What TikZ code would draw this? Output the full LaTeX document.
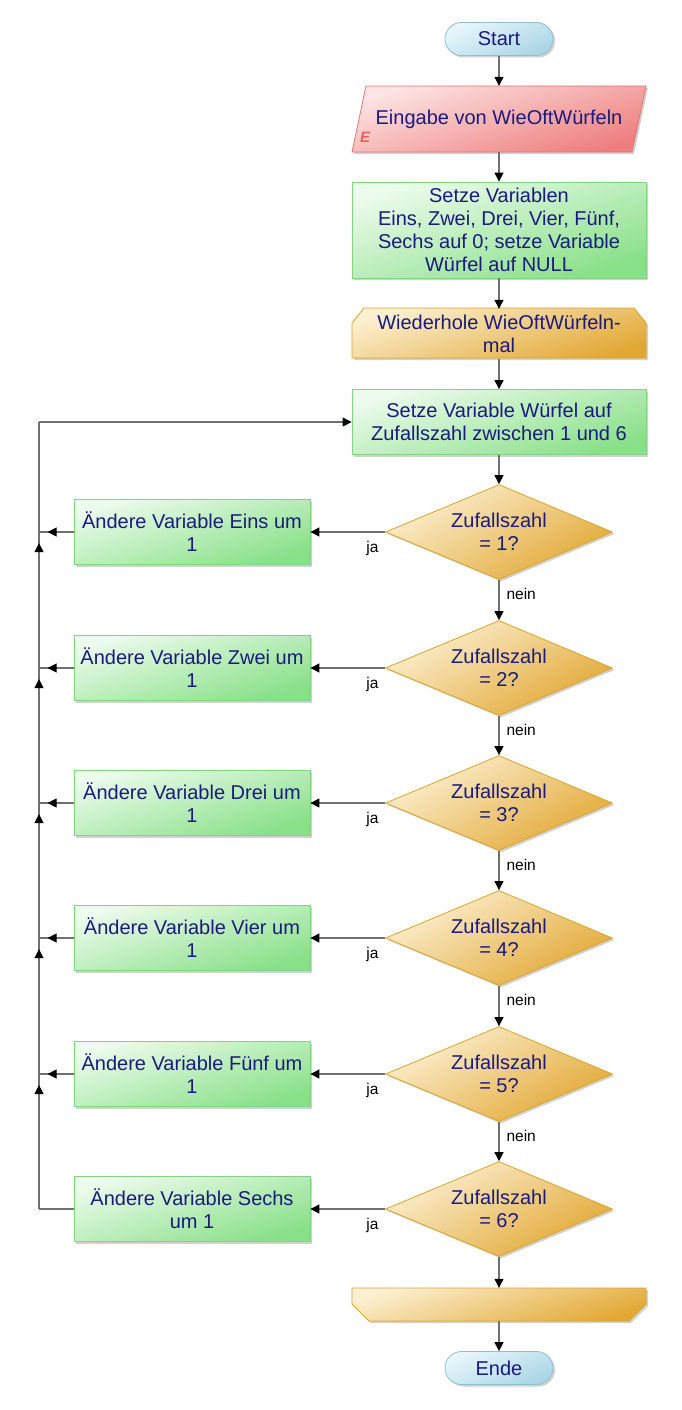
\documentclass[tikz,border=0pt]{standalone}
\usepackage{fontspec}
\setmainfont{Liberation Sans}
\usetikzlibrary{arrows.meta,shapes.geometric,decorations.markings,shadows}
\definecolor{navy}{RGB}{26,26,127}
\definecolor{linegray}{RGB}{112,112,112}
\definecolor{termlight}{RGB}{232,246,251}
\definecolor{termdark}{RGB}{170,214,229}
\definecolor{termborder}{RGB}{140,192,210}
\definecolor{inlight}{RGB}{253,228,228}
\definecolor{indark}{RGB}{238,126,126}
\definecolor{inborder}{RGB}{229,115,115}
\definecolor{proclight}{RGB}{236,251,236}
\definecolor{procdark}{RGB}{136,224,136}
\definecolor{procborder}{RGB}{127,214,127}
\definecolor{declight}{RGB}{252,240,210}
\definecolor{decdark}{RGB}{226,168,52}
\definecolor{decborder}{RGB}{217,165,42}
\definecolor{ered}{RGB}{232,96,96}
\begin{document}
\begin{tikzpicture}[x=1pt,y=-1pt,
  tip/.style={-{Triangle[length=9pt,width=9pt,color=black]}},
  conn/.style={draw=linegray,line width=1.1pt},
  arr/.style={conn,tip},
  txt/.style={text=navy,font=\fontsize{20}{23}\selectfont,align=center,inner sep=0pt},
  lbl/.style={text=black,font=\fontsize{15.5}{18}\selectfont,inner sep=0pt},
  shad/.style={drop shadow={shadow xshift=2pt,shadow yshift=-2pt,fill=black!40,opacity=0.45}},
  term/.style={txt,rectangle,rounded corners=16.5pt,minimum width=108pt,minimum height=33pt,
    draw=termborder,line width=0.8pt,top color=termlight,bottom color=termdark,shading angle=25,shad},
  proc/.style={txt,rectangle,draw=procborder,line width=0.8pt,top color=proclight,bottom color=procdark,shading angle=18,shad},
  dec/.style={txt,diamond,aspect=2.4,minimum width=227pt,minimum height=95pt,
    draw=decborder,line width=0.8pt,top color=declight,bottom color=decdark,shading angle=30,shad},
  loopfill/.style={draw=decborder,line width=0.8pt,top color=declight,bottom color=decdark,shading angle=18},
  infill/.style={draw=inborder,line width=0.8pt,top color=inlight,bottom color=indark,shading angle=18},
  shadowfill/.style={fill=black!40,opacity=0.45,shift={(2,2)}},
  leftmark/.style={decoration={markings,mark=at position 26pt with {\arrow{Triangle[length=9pt,width=9pt,color=black]}}},postaction={decorate}},
  upmark/.style={decoration={markings,mark=at position 0.918 with {\arrow{Triangle[length=9pt,width=9pt,color=black]}}},postaction={decorate}}
]
\useasboundingbox (0,0) rectangle (682,1410);

% Start
\node[term] (start) at (499,39) {Start};

% Input parallelogram
\path[shadowfill] (366,86) -- (646,86) -- (632,152) -- (352,152) -- cycle;
\path[infill] (366,86) -- (646,86) -- (632,152) -- (352,152) -- cycle;
\node[txt,minimum width=280pt,minimum height=66pt] (inp) at (499,119) {Eingabe von WieOftWürfeln};
\node[font=\bfseries\itshape\fontsize{15}{15}\selectfont,text=ered,inner sep=0pt] (eletter) at (365,137) {E};

% Init
\node[proc,minimum width=294pt,minimum height=96pt] (init) at (499,230)
  {Setze Variablen\\Eins, Zwei, Drei, Vier, Fünf,\\Sechs auf 0; setze Variable\\Würfel auf NULL};

% Loop head
\path[shadowfill] (364,308) -- (634,308) -- (646,323) -- (646,358) -- (352,358) -- (352,323) -- cycle;
\path[loopfill] (364,308) -- (634,308) -- (646,323) -- (646,358) -- (352,358) -- (352,323) -- cycle;
\node[txt,minimum width=294pt,minimum height=50pt] (loop) at (499,334) {Wiederhole WieOftWürfeln-\\mal};

% Random
\node[proc,minimum width=294pt,minimum height=65pt] (wurf) at (499,422)
  {Setze Variable Würfel auf\\Zufallszahl zwischen 1 und 6};

% Decisions and left boxes
\node[dec] (d1) at (499,532) {Zufallszahl\\= 1?};
\node[dec] (d2) at (499,668) {Zufallszahl\\= 2?};
\node[dec] (d3) at (499,803) {Zufallszahl\\= 3?};
\node[dec] (d4) at (499,938) {Zufallszahl\\= 4?};
\node[dec] (d5) at (499,1074) {Zufallszahl\\= 5?};
\node[dec] (d6) at (499,1209) {Zufallszahl\\= 6?};

\node[proc,minimum width=236pt,minimum height=65pt] (b1) at (192,532) {Ändere Variable Eins um\\1};
\node[proc,minimum width=236pt,minimum height=65pt] (b2) at (192,668) {Ändere Variable Zwei um\\1};
\node[proc,minimum width=236pt,minimum height=65pt] (b3) at (192,803) {Ändere Variable Drei um\\1};
\node[proc,minimum width=236pt,minimum height=65pt] (b4) at (192,938) {Ändere Variable Vier um\\1};
\node[proc,minimum width=236pt,minimum height=65pt] (b5) at (192,1074) {Ändere Variable Fünf um\\1};
\node[proc,minimum width=236pt,minimum height=65pt] (b6) at (192,1209) {Ändere Variable Sechs\\um 1};

% Loop end
\path[shadowfill] (352,1288) -- (646,1288) -- (646,1304) -- (629,1321) -- (369,1321) -- (352,1304) -- cycle;
\path[loopfill] (352,1288) -- (646,1288) -- (646,1304) -- (629,1321) -- (369,1321) -- (352,1304) -- cycle;
\node[txt,minimum width=294pt,minimum height=33pt] (loopend) at (499,1304.5) {};

% Ende
\node[term] (ende) at (499,1368) {Ende};

% Main column
\draw[arr] (start) -- (inp);
\draw[arr] (inp) -- (init);
\draw[arr] (init) -- (loop);
\draw[arr] (loop) -- (wurf);
\draw[arr] (wurf) -- (d1);
\foreach \a/\b in {d1/d2,d2/d3,d3/d4,d4/d5,d5/d6}{
  \draw[arr] (\a) -- (\b) node[lbl,pos=0.36,anchor=west,xshift=7pt] {nein};
}
\draw[arr] (d6) -- (loopend);
\draw[arr] (loopend) -- (ende);

% ja branches
\foreach \i in {1,...,6}{
  \draw[arr] (d\i.west) -- (b\i.east) node[lbl,pos=0.17,yshift=-16pt] {ja};
}

% Return line
\coordinate (j1) at (39,532);
\coordinate (j2) at (39,668);
\coordinate (j3) at (39,803);
\coordinate (j4) at (39,938);
\coordinate (j5) at (39,1074);
\coordinate (j6) at (39,1209);
\coordinate (jtop) at (39,422);
\foreach \i in {1,...,5}{
  \draw[conn,leftmark] (b\i.west) -- (j\i);
}
\draw[conn] (b6.west) -- (j6);
\foreach \a/\b in {j2/j1,j3/j2,j4/j3,j5/j4,j6/j5}{
  \draw[conn,upmark] (\a) -- (\b);
}
\draw[conn] (j1) -- (jtop);
\draw[arr] (jtop) -- (wurf.west);
\end{tikzpicture}
\end{document}
